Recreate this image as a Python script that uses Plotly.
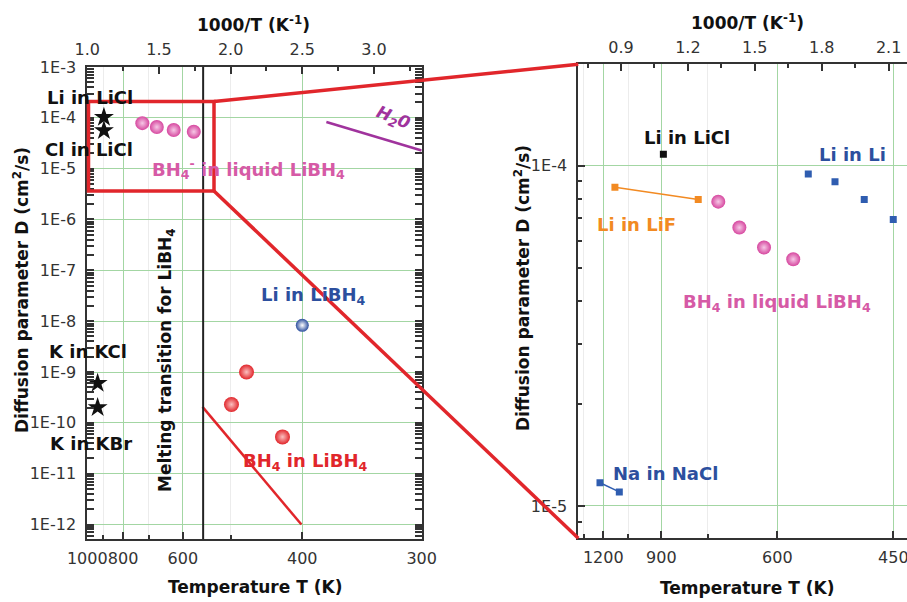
import plotly.graph_objects as go

W, H = 907, 602
FONT = "DejaVu Sans"

# ---------------- data (x = 1000/T in 1/K, y = D in cm^2/s) ----------------
# Left panel (overview)
licl_star_x = [1.116, 1.116]
licl_star_D = [1.02e-4, 5.6e-5]
k_star_x = [1.072, 1.072]
k_star_D = [6.0e-10, 2.0e-10]
liq_bh4_x = [1.384, 1.485, 1.603, 1.743]
liq_bh4_D = [7.84e-5, 6.58e-5, 5.75e-5, 5.31e-5]
li_libh4_x = [2.50]
li_libh4_D = [8.3e-9]
bh4_x = [2.006, 2.111, 2.362]
bh4_D = [2.3e-10, 1.0e-9, 5.3e-11]
bh4_line_x = [1.804, 2.494]
bh4_line_D = [2.06e-10, 1.0e-12]
h2o_x = [2.668, 3.333]
h2o_D = [8.27e-5, 2.27e-5]
T_melt = 553  # K, melting transition of LiBH4

# Right panel (zoom)
li_licl_x = [1.121]
li_licl_D = [1.08e-4]
li_lif_x = [0.889, 1.288]
li_lif_D = [8.64e-5, 7.96e-5]
li_li_x = [1.815, 1.943, 2.083, 2.222]
li_li_D = [9.46e-5, 8.97e-5, 7.96e-5, 6.95e-5]
na_nacl_x = [0.8175, 0.910]
na_nacl_D = [1.17e-5, 1.10e-5]

# ---------------- ticks ----------------
left_T_major = [1000, 800, 600, 400, 300]
left_T_minor = [900, 700, 500]
left_inv_major = [1.0, 1.5, 2.0, 2.5, 3.0]
left_inv_minor = [1.25, 1.75, 2.25, 2.75, 3.25]
left_D_exp = [-3, -4, -5, -6, -7, -8, -9, -10, -11, -12]
right_T_major = [1200, 900, 600, 450]
right_T_minor = [1350, 1050, 750]
right_inv_major = [0.9, 1.2, 1.5, 1.8, 2.1]
right_inv_minor = [0.75, 1.05, 1.35, 1.65, 1.95]
right_D_exp = [-4, -5]

# ---------------- colors ----------------
PINK = "#d6479f"
PINK_TXT = "#d65aa6"
RED = "#e1262b"
BLUE = "#2c4f9e"
BLUE_SQ = "#2f5db0"
ORANGE = "#f28a22"
PURPLE = "#a0339d"
GREEN = "#a3d6a3"
FAINT = "#ececec"
AX = "#333333"


def PX(x):
    return x / W


def PY(y):
    return 1 - y / H


fig = go.Figure()

# ---- left panel traces ----
fig.add_trace(go.Scatter(x=h2o_x, y=h2o_D, mode="lines", line=dict(color=PURPLE, width=2.5),
                         xaxis="x", yaxis="y"))
fig.add_trace(go.Scatter(x=bh4_line_x, y=bh4_line_D, mode="lines", line=dict(color=RED, width=2.5),
                         xaxis="x", yaxis="y"))
fig.add_trace(go.Scatter(x=licl_star_x, y=licl_star_D, mode="markers",
                         marker=dict(symbol="star", size=15, color="#111"), xaxis="x", yaxis="y"))
fig.add_trace(go.Scatter(x=k_star_x, y=k_star_D, mode="markers",
                         marker=dict(symbol="star", size=15, color="#111"), xaxis="x", yaxis="y"))
fig.add_trace(go.Scatter(x=liq_bh4_x, y=liq_bh4_D, mode="markers",
                         marker=dict(size=14, color=PINK, gradient=dict(type="radial", color="#f6c8e6")),
                         xaxis="x", yaxis="y"))
fig.add_trace(go.Scatter(x=li_libh4_x, y=li_libh4_D, mode="markers",
                         marker=dict(size=13, color=BLUE, gradient=dict(type="radial", color="#ffffff")),
                         xaxis="x", yaxis="y"))
fig.add_trace(go.Scatter(x=bh4_x, y=bh4_D, mode="markers",
                         marker=dict(size=15, color=RED, gradient=dict(type="radial", color="#fbc0c0")),
                         xaxis="x", yaxis="y"))
fig.add_trace(go.Scatter(x=[], y=[], xaxis="x2", yaxis="y"))

# ---- right panel traces ----
fig.add_trace(go.Scatter(x=li_lif_x, y=li_lif_D, mode="lines+markers",
                         line=dict(color=ORANGE, width=1.5),
                         marker=dict(symbol="square", size=7, color=ORANGE), xaxis="x3", yaxis="y2"))
fig.add_trace(go.Scatter(x=na_nacl_x, y=na_nacl_D, mode="lines+markers",
                         line=dict(color=BLUE_SQ, width=1.5),
                         marker=dict(symbol="square", size=7, color=BLUE_SQ), xaxis="x3", yaxis="y2"))
fig.add_trace(go.Scatter(x=li_licl_x, y=li_licl_D, mode="markers",
                         marker=dict(symbol="square", size=7, color="#111"), xaxis="x3", yaxis="y2"))
fig.add_trace(go.Scatter(x=li_li_x, y=li_li_D, mode="markers",
                         marker=dict(symbol="square", size=7, color=BLUE_SQ), xaxis="x3", yaxis="y2"))
fig.add_trace(go.Scatter(x=liq_bh4_x, y=liq_bh4_D, mode="markers",
                         marker=dict(size=14, color=PINK, gradient=dict(type="radial", color="#f6c8e6")),
                         xaxis="x3", yaxis="y2"))
fig.add_trace(go.Scatter(x=[], y=[], xaxis="x4", yaxis="y2"))

tickfont = dict(family=FONT, size=16, color=AX)
common = dict(showline=True, linecolor=AX, linewidth=2, ticks="inside", tickcolor=AX, tickwidth=1.5,
              tickfont=tickfont, zeroline=False, automargin=False, tickangle=0, tickmode="array",
              ticklabeloverflow="allow")


def minors_log(lo, hi):
    out = []
    for e in range(lo, hi):
        for m in range(2, 10):
            out.append(m * 10.0 ** e)
    return out


L_X0, L_X1, L_Y0, L_Y1 = 87.3, 421.7, 66.7, 539.3
R_X0, R_X1, R_Y0, R_Y1 = 578.3, 907.0, 64.3, 538.3

fig.update_layout(
    xaxis=dict(common, domain=[PX(L_X0), PX(L_X1)], anchor="y", range=[1.0, 1000 / 300],
               tickvals=[1000 / t for t in left_T_major], ticktext=[str(t) for t in left_T_major],
               ticklen=7, showgrid=True, gridcolor=GREEN, gridwidth=1, ticklabelstandoff=3,
               minor=dict(tickvals=[1000 / t for t in left_T_minor], ticks="inside", ticklen=4,
                          tickcolor=AX, showgrid=True, gridcolor=FAINT)),
    xaxis2=dict(common, overlaying="x", side="top", anchor="y", range=[1.0, 1000 / 300],
                tickvals=left_inv_major, ticktext=["%.1f" % v for v in left_inv_major],
                ticklen=7, showgrid=False, ticklabelstandoff=3,
                minor=dict(tickvals=left_inv_minor, ticks="inside", ticklen=4, tickcolor=AX)),
    yaxis=dict(common, domain=[PY(L_Y1), PY(L_Y0)], anchor="x", type="log", range=[-12.29, -2.995],
               tickvals=[10.0 ** e for e in left_D_exp], ticktext=["1E%d" % e for e in left_D_exp],
               ticklen=7, showgrid=True, gridcolor=GREEN, mirror="allticks", ticklabelstandoff=6,
               minor=dict(tickvals=minors_log(-13, -3), ticks="inside", ticklen=4, tickcolor=AX)),
    xaxis3=dict(common, domain=[PX(R_X0), PX(R_X1)], anchor="y2", range=[0.7136, 2.2878],
                tickvals=[1000 / t for t in right_T_major], ticktext=[str(t) for t in right_T_major],
                ticklen=7, showgrid=True, gridcolor=GREEN, ticklabelstandoff=3,
                minor=dict(tickvals=[1000 / t for t in right_T_minor], ticks="inside", ticklen=4,
                           tickcolor=AX, showgrid=True, gridcolor=FAINT)),
    xaxis4=dict(common, overlaying="x3", side="top", anchor="y2", range=[0.7085, 2.1825],
                tickvals=right_inv_major, ticktext=["%.1f" % v for v in right_inv_major],
                ticklen=7, showgrid=False, ticklabelstandoff=3,
                minor=dict(tickvals=right_inv_minor, ticks="inside", ticklen=4, tickcolor=AX)),
    yaxis2=dict(common, domain=[PY(R_Y1), PY(R_Y0)], anchor="x3", type="log", range=[-5.095, -3.702],
                tickvals=[10.0 ** e for e in right_D_exp], ticktext=["1E%d" % e for e in right_D_exp],
                ticklen=7, showgrid=True, gridcolor=GREEN, ticklabelstandoff=6,
                minor=dict(tickvals=minors_log(-6, -3), ticks="inside", ticklen=4, tickcolor=AX)),
    width=W, height=H, autosize=False,
    margin=dict(l=0, r=0, t=0, b=0),
    paper_bgcolor="white", plot_bgcolor="white",
    showlegend=False,
    font=dict(family=FONT),
)

# ---- shapes ----
shapes = [
    dict(type="line", xref="x", yref="y domain", x0=1000 / T_melt, x1=1000 / T_melt, y0=0, y1=1,
         line=dict(color="#222", width=2)),
    dict(type="rect", xref="paper", yref="paper", x0=PX(88.5), x1=PX(214), y0=PY(191), y1=PY(101.5),
         line=dict(color=RED, width=3.5)),
    dict(type="line", xref="paper", yref="paper", x0=PX(214), y0=PY(101.5), x1=PX(R_X0), y1=PY(R_Y0),
         line=dict(color=RED, width=3.5)),
    dict(type="line", xref="paper", yref="paper", x0=PX(214), y0=PY(191), x1=PX(R_X0), y1=PY(R_Y1),
         line=dict(color=RED, width=3.5)),
]
fig.update_layout(shapes=shapes)


def ann(text, x, y, color="#111", size=18, angle=0, style="normal", xanchor="center"):
    return dict(text=text, x=PX(x), y=PY(y), xref="paper", yref="paper", showarrow=False,
                xanchor=xanchor, yanchor="middle", textangle=angle,
                font=dict(family=FONT, size=size, color=color, weight="bold", style=style))


anns = [
    ann("Li in LiCl", 90, 97),
    ann("Cl in LiCl", 89, 149),
    ann("BH<sub>4</sub><sup>-</sup> in liquid LiBH<sub>4</sub>", 248, 169, PINK_TXT),
    ann("H<sub>2</sub>0", 393, 118, PURPLE, size=17, angle=22, style="italic"),
    ann("Li in LiBH<sub>4</sub>", 313, 296, BLUE),
    ann("K in KCl", 88, 351),
    ann("K in KBr", 91, 443),
    ann("BH<sub>4</sub> in LiBH<sub>4</sub>", 305, 462, RED),
    ann("Melting transition for LiBH<sub>4</sub>", 166, 360, "#111", size=17, angle=-90),
    ann("Li in LiCl", 687, 137),
    ann("Li in Li", 852, 154, BLUE),
    ann("Li in LiF", 636, 224, ORANGE),
    ann("BH<sub>4</sub> in liquid LiBH<sub>4</sub>", 777, 303, PINK_TXT),
    ann("Na in NaCl", 665, 473, BLUE),
    ann("1000/T (K<sup>-1</sup>)", 254, 24, size=17),
    ann("1000/T (K<sup>-1</sup>)", 747, 22, size=17),
    ann("Temperature T (K)", 255, 587, size=17),
    ann("Temperature T (K)", 747, 588, size=17),
    ann("Diffusion parameter D (cm<sup>2</sup>/s)", 21, 290, size=17, angle=-90),
    ann("Diffusion parameter D (cm<sup>2</sup>/s)", 522, 288, size=17, angle=-90),
]
fig.update_layout(annotations=anns)

fig.write_html(
    "out.html",
    config={"displayModeBar": False},
    post_script="document.body.style.margin='0px';document.body.style.overflow='hidden';",
)
